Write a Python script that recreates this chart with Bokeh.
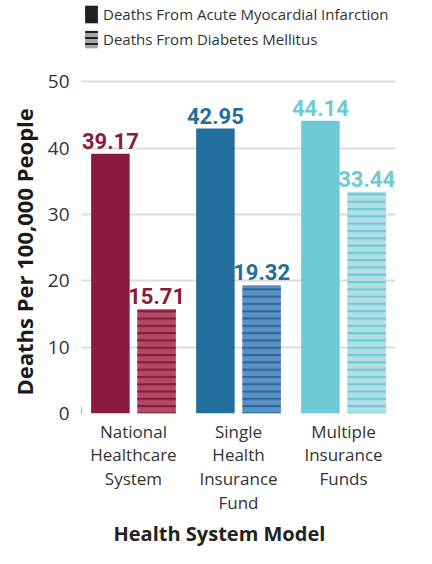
from bokeh.plotting import figure
from bokeh.models import (ColumnDataSource, FixedTicker, Legend, LegendItem, Title, Range1d)
from bokeh.core.properties import value
from bokeh.embed import file_html
from bokeh.resources import INLINE

# ---- data ----
groups = ["National\nHealthcare\nSystem", "Single\nHealth\nInsurance\nFund", "Multiple\nInsurance\nFunds"]
ami_deaths = [39.17, 42.95, 44.14]
diabetes_deaths = [15.71, 19.32, 33.44]
y_ticks = [0, 10, 20, 30, 40, 50]
series_names = ["Deaths From Acute Myocardial Infarction", "Deaths From Diabetes Mellitus"]

# ---- styles ----
ami_colors = ["#8B1A3D", "#226E9D", "#6ECAD6"]
dm_colors = ["#B04B67", "#6090C2", "#B1DFE6"]
dm_stripes = ["#8B1A3D", "#226E9D", "#6ECAD6"]
label_colors = ["#8B1A3D", "#226E9D", "#6ECAD6"]

gx = list(range(len(groups)))
off = 0.22
bw = 0.367

src_a = ColumnDataSource(dict(x=[g - off for g in gx], top=ami_deaths, color=ami_colors,
                              lab=[f"{v:.2f}" for v in ami_deaths], lc=label_colors))
src_b = ColumnDataSource(dict(x=[g + off for g in gx], top=diabetes_deaths, color=dm_colors,
                              hc=dm_stripes, lab=[f"{v:.2f}" for v in diabetes_deaths], lc=label_colors))

p = figure(width=416, height=548, output_backend="svg", toolbar_location=None,
           x_range=Range1d(-0.495, 2.495), y_range=Range1d(0, 62.1),
           min_border_left=77, min_border_right=21, min_border_top=1, min_border_bottom=135)
p.outline_line_color = None
p.background_fill_color = "white"
p.border_fill_color = "white"

p.xgrid.grid_line_color = None
p.ygrid.grid_line_color = "#DCDCDC"
p.ygrid.grid_line_width = 2
p.ygrid.ticker = FixedTicker(ticks=y_ticks)

p.vbar(x="x", top="top", width=bw, source=src_a, fill_color="color", line_color=None)
p.vbar(x="x", top="top", width=bw, source=src_b, fill_color="color", line_color=None,
       hatch_pattern="horizontal_line", hatch_color="hc", hatch_scale=7.3, hatch_weight=2.2)

for s in (src_a, src_b):
    p.text(x="x", y="top", text="lab", source=s, text_color="lc", text_align="center",
           text_baseline="bottom", y_offset=-5,
           text_font=value("Roboto"),
           text_font_style="bold", text_font_size="22px")

# axes
p.yaxis.ticker = FixedTicker(ticks=y_ticks)
p.yaxis.axis_line_color = None
p.yaxis.major_tick_line_color = None
p.yaxis.minor_tick_line_color = None
p.yaxis.major_label_text_font = "Open Sans"
p.yaxis.major_label_text_font_size = "19px"
p.yaxis.major_label_text_color = "#333333"
p.yaxis.major_label_standoff = 6

p.xaxis.ticker = FixedTicker(ticks=gx)
p.xaxis.major_label_overrides = {g: lab for g, lab in zip(gx, groups)}
p.xaxis.axis_line_color = None
p.xaxis.major_tick_line_color = None
p.xaxis.minor_tick_line_color = None
p.xaxis.major_label_text_font = "Open Sans"
p.xaxis.major_label_text_font_size = "17px"
p.xaxis.major_label_text_line_height = 1.04
p.xaxis.major_label_text_color = "#333333"
p.xaxis.major_label_standoff = 0

ylab = Title(text="Deaths Per 100,000 People", align="left", offset=18,
             text_font="Open Sans", text_font_style="bold", text_font_size="22px",
             text_color="#1a1a1a", standoff=12)
p.add_layout(ylab, "left")
xlab = Title(text="Health System Model", align="left", offset=32,
             text_font="Open Sans", text_font_style="bold", text_font_size="20px",
             text_color="#222222", standoff=0)
p.add_layout(xlab, "below")

# legend (swatch renderers kept outside the visible x range)
r1 = p.vbar(x=[-9], top=[1], width=0.1, fill_color="#231F20", line_color=None)
r2 = p.vbar(x=[-9], top=[1], width=0.1, fill_color="#A5A5A5", line_color=None,
            hatch_pattern="horizontal_line", hatch_color="#231F20", hatch_scale=6, hatch_weight=2)
legend = Legend(items=[LegendItem(label=series_names[0], renderers=[r1]),
                       LegendItem(label=series_names[1], renderers=[r2])],
                location="top_left", orientation="vertical",
                glyph_width=16, glyph_height=22, spacing=3, padding=0, margin=2,
                label_standoff=4, label_text_font="Open Sans", label_text_font_size="15px",
                label_text_color="#333333", background_fill_alpha=0, border_line_color=None)
p.add_layout(legend, "center")

open("out.html", "w").write(file_html(p, INLINE))
